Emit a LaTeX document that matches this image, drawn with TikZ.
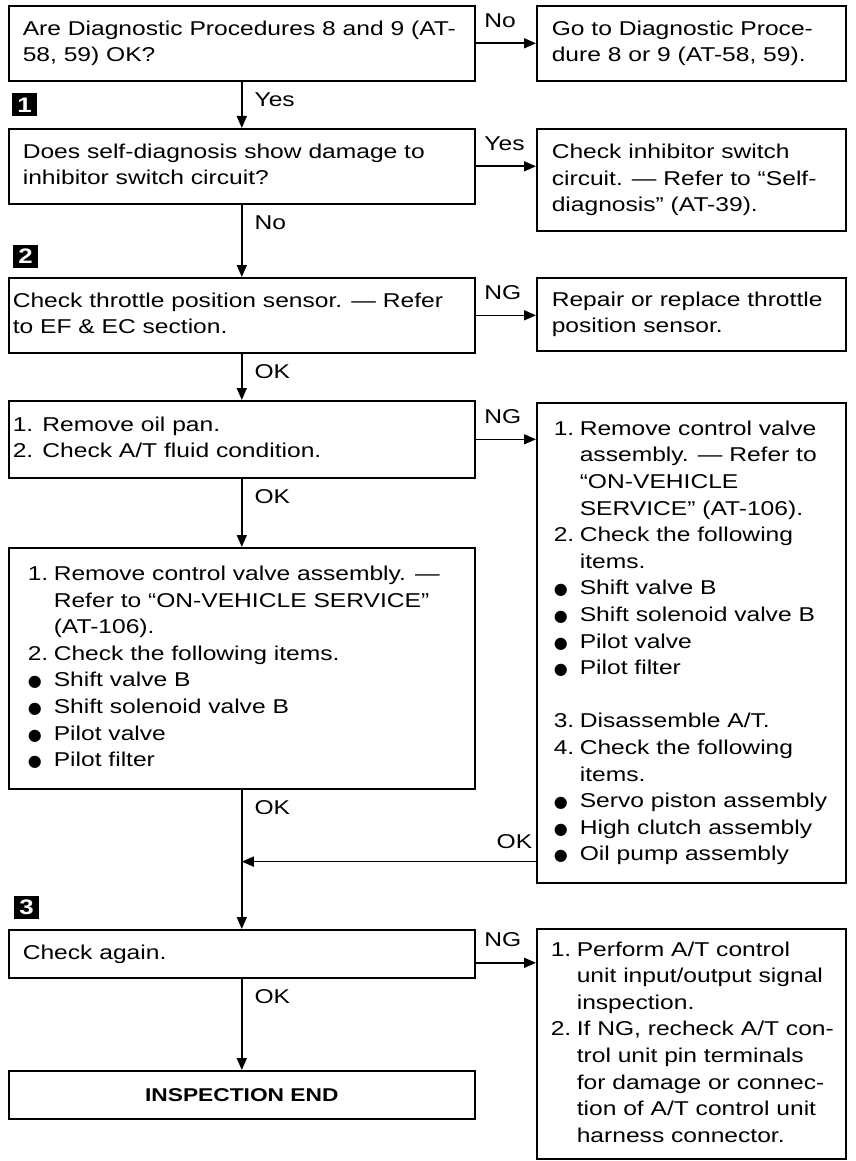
\documentclass[tikz,border=0pt]{standalone}
\usepackage{fontspec}
\setmainfont{Liberation Sans}[FakeStretch=1.23]
\newfontfamily\dejavu{DejaVu Sans}
\usetikzlibrary{arrows.meta}
\newcommand\numit[1]{\makebox[26pt][l]{#1}}
\newcommand\bul{\makebox[26pt][l]{\dejavu\fontsize{16}{16}\selectfont ●}}
\newcommand\bx[2]{\makebox[#1][l]{\begin{tabular}{@{}l@{}}#2\end{tabular}}}
\begin{document}
\begin{tikzpicture}[x=1pt, y=-1pt,
  font=\fontsize{20}{26.6}\selectfont, line width=1.6pt,
  box/.style={draw, line width=1.6pt, anchor=north west, inner ysep=0pt},
  arr/.style={line width=1.6pt, -{Triangle[length=12pt,width=10pt]}},
  lbl/.style={inner sep=0pt},
  hl/.style={lbl, pos=0, anchor=base west, xshift=8pt, yshift=16pt},
  vl/.style={lbl, pos=0, anchor=base west, xshift=12pt, yshift=-25pt},
  mk/.style={fill=black, text=white, font=\fontsize{21}{21}\selectfont\bfseries,
    minimum width=25pt, minimum height=23pt, inner sep=0pt}]
\useasboundingbox (0,0) rectangle (856,1161);

% left column
\node[box, inner xsep=14pt, minimum width=466pt, minimum height=75pt] (q1) at (8,5)
  {\bx{438pt}{Are Diagnostic Procedures 8 and 9 (AT-\\58, 59) OK?}};
\node[box, inner xsep=14pt, minimum width=466pt, minimum height=75pt] (q2) at (8,128)
  {\bx{438pt}{Does self-diagnosis show damage to\\inhibitor switch circuit?}};
\node[box, inner xsep=4pt, minimum width=466pt, minimum height=75pt] (q3) at (8,277)
  {\bx{458pt}{Check throttle position sensor. — Refer\\to EF \& EC section.}};
\node[box, inner xsep=4pt, minimum width=466pt, minimum height=77pt] (q4) at (8,400)
  {\bx{458pt}{1. Remove oil pan.\\2. Check A/T fluid condition.}};
\node[box, inner xsep=19pt, minimum width=466pt, minimum height=241pt] (q5) at (8,547)
  {\bx{428pt}{\numit{1.}Remove control valve assembly. —\\
  \numit{}Refer to “ON-VEHICLE SERVICE”\\
  \numit{}(AT-106).\\
  \numit{2.}Check the following items.\\
  \bul Shift valve B\\
  \bul Shift solenoid valve B\\
  \bul Pilot valve\\
  \bul Pilot filter}};
\node[box, inner xsep=14pt, minimum width=466pt, minimum height=48pt] (q6) at (8,929)
  {\bx{438pt}{Check again.}};
\node[box, inner xsep=14pt, minimum width=466pt, minimum height=48pt,
  font=\fontsize{18.5}{20}\selectfont\bfseries] (q7) at (8,1070) {INSPECTION END};

% right column
\node[box, inner xsep=15pt, minimum width=309pt, minimum height=75pt] (r1) at (536,5)
  {\bx{279pt}{Go to Diagnostic Proce-\\dure 8 or 9 (AT-58, 59).}};
\node[box, inner xsep=15pt, minimum width=309pt, minimum height=102pt] (r2) at (536,128)
  {\bx{279pt}{Check inhibitor switch\\circuit. — Refer to “Self-\\diagnosis” (AT-39).}};
\node[box, inner xsep=15pt, minimum width=309pt, minimum height=73pt] (r3) at (536,277)
  {\bx{279pt}{Repair or replace throttle\\position sensor.}};
\node[box, inner xsep=17pt, minimum width=309pt, minimum height=480pt] (r4) at (536,402)
  {\bx{275pt}{\numit{1.}Remove control valve\\
  \numit{}assembly. — Refer to\\
  \numit{}“ON-VEHICLE\\
  \numit{}SERVICE” (AT-106).\\
  \numit{2.}Check the following\\
  \numit{}items.\\
  \bul Shift valve B\\
  \bul Shift solenoid valve B\\
  \bul Pilot valve\\
  \bul Pilot filter\\
  \\
  \numit{3.}Disassemble A/T.\\
  \numit{4.}Check the following\\
  \numit{}items.\\
  \bul Servo piston assembly\\
  \bul High clutch assembly\\
  \bul Oil pump assembly}};
\node[box, inner xsep=14pt, minimum width=309pt, minimum height=230pt] (r6) at (536,928)
  {\bx{281pt}{\numit{1.}Perform A/T control\\
  \numit{}unit input/output signal\\
  \numit{}inspection.\\
  \numit{2.}If NG, recheck A/T con-\\
  \numit{}trol unit pin terminals\\
  \numit{}for damage or connec-\\
  \numit{}tion of A/T control unit\\
  \numit{}harness connector.}};

% step markers
\node[mk] (s1) at (24.5,105) {1};
\node[mk] (s2) at (25.5,256) {2};
\node[mk] (s3) at (26.5,907) {3};

% horizontal connectors
\draw[arr] (q1.east) -- node[hl]{No} (r1.west);
\draw[arr] (q2.east) -- node[hl]{Yes} (q2.east -| r2.west);
\draw[arr] (q3.east) -- node[hl]{NG} (q3.east -| r3.west);
\draw[arr] (q4.east) -- node[hl]{NG} (q4.east -| r4.west);
\coordinate (f) at ([yshift=-9pt]q6.east);
\draw[arr] (f) -- node[hl]{NG} (f -| r6.west);

% vertical connectors
\draw[arr] (q1.south) -- node[vl]{Yes} (q2.north);
\draw[arr] (q2.south) -- node[vl]{No} (q3.north);
\draw[arr] (q3.south) -- node[vl]{OK} (q4.north);
\draw[arr] (q4.south) -- node[vl]{OK} (q5.north);
\draw[arr] (q5.south) -- node[vl]{OK} (q6.north);
\coordinate (m) at ([yshift=22pt]r4.south west);
\draw[arr] (m) -- node[lbl, pos=0, anchor=base east, xshift=-3pt, yshift=13pt]{OK} (m -| q5.south);
\draw[arr] (q6.south) -- node[vl]{OK} (q7.north);
\end{tikzpicture}
\end{document}
